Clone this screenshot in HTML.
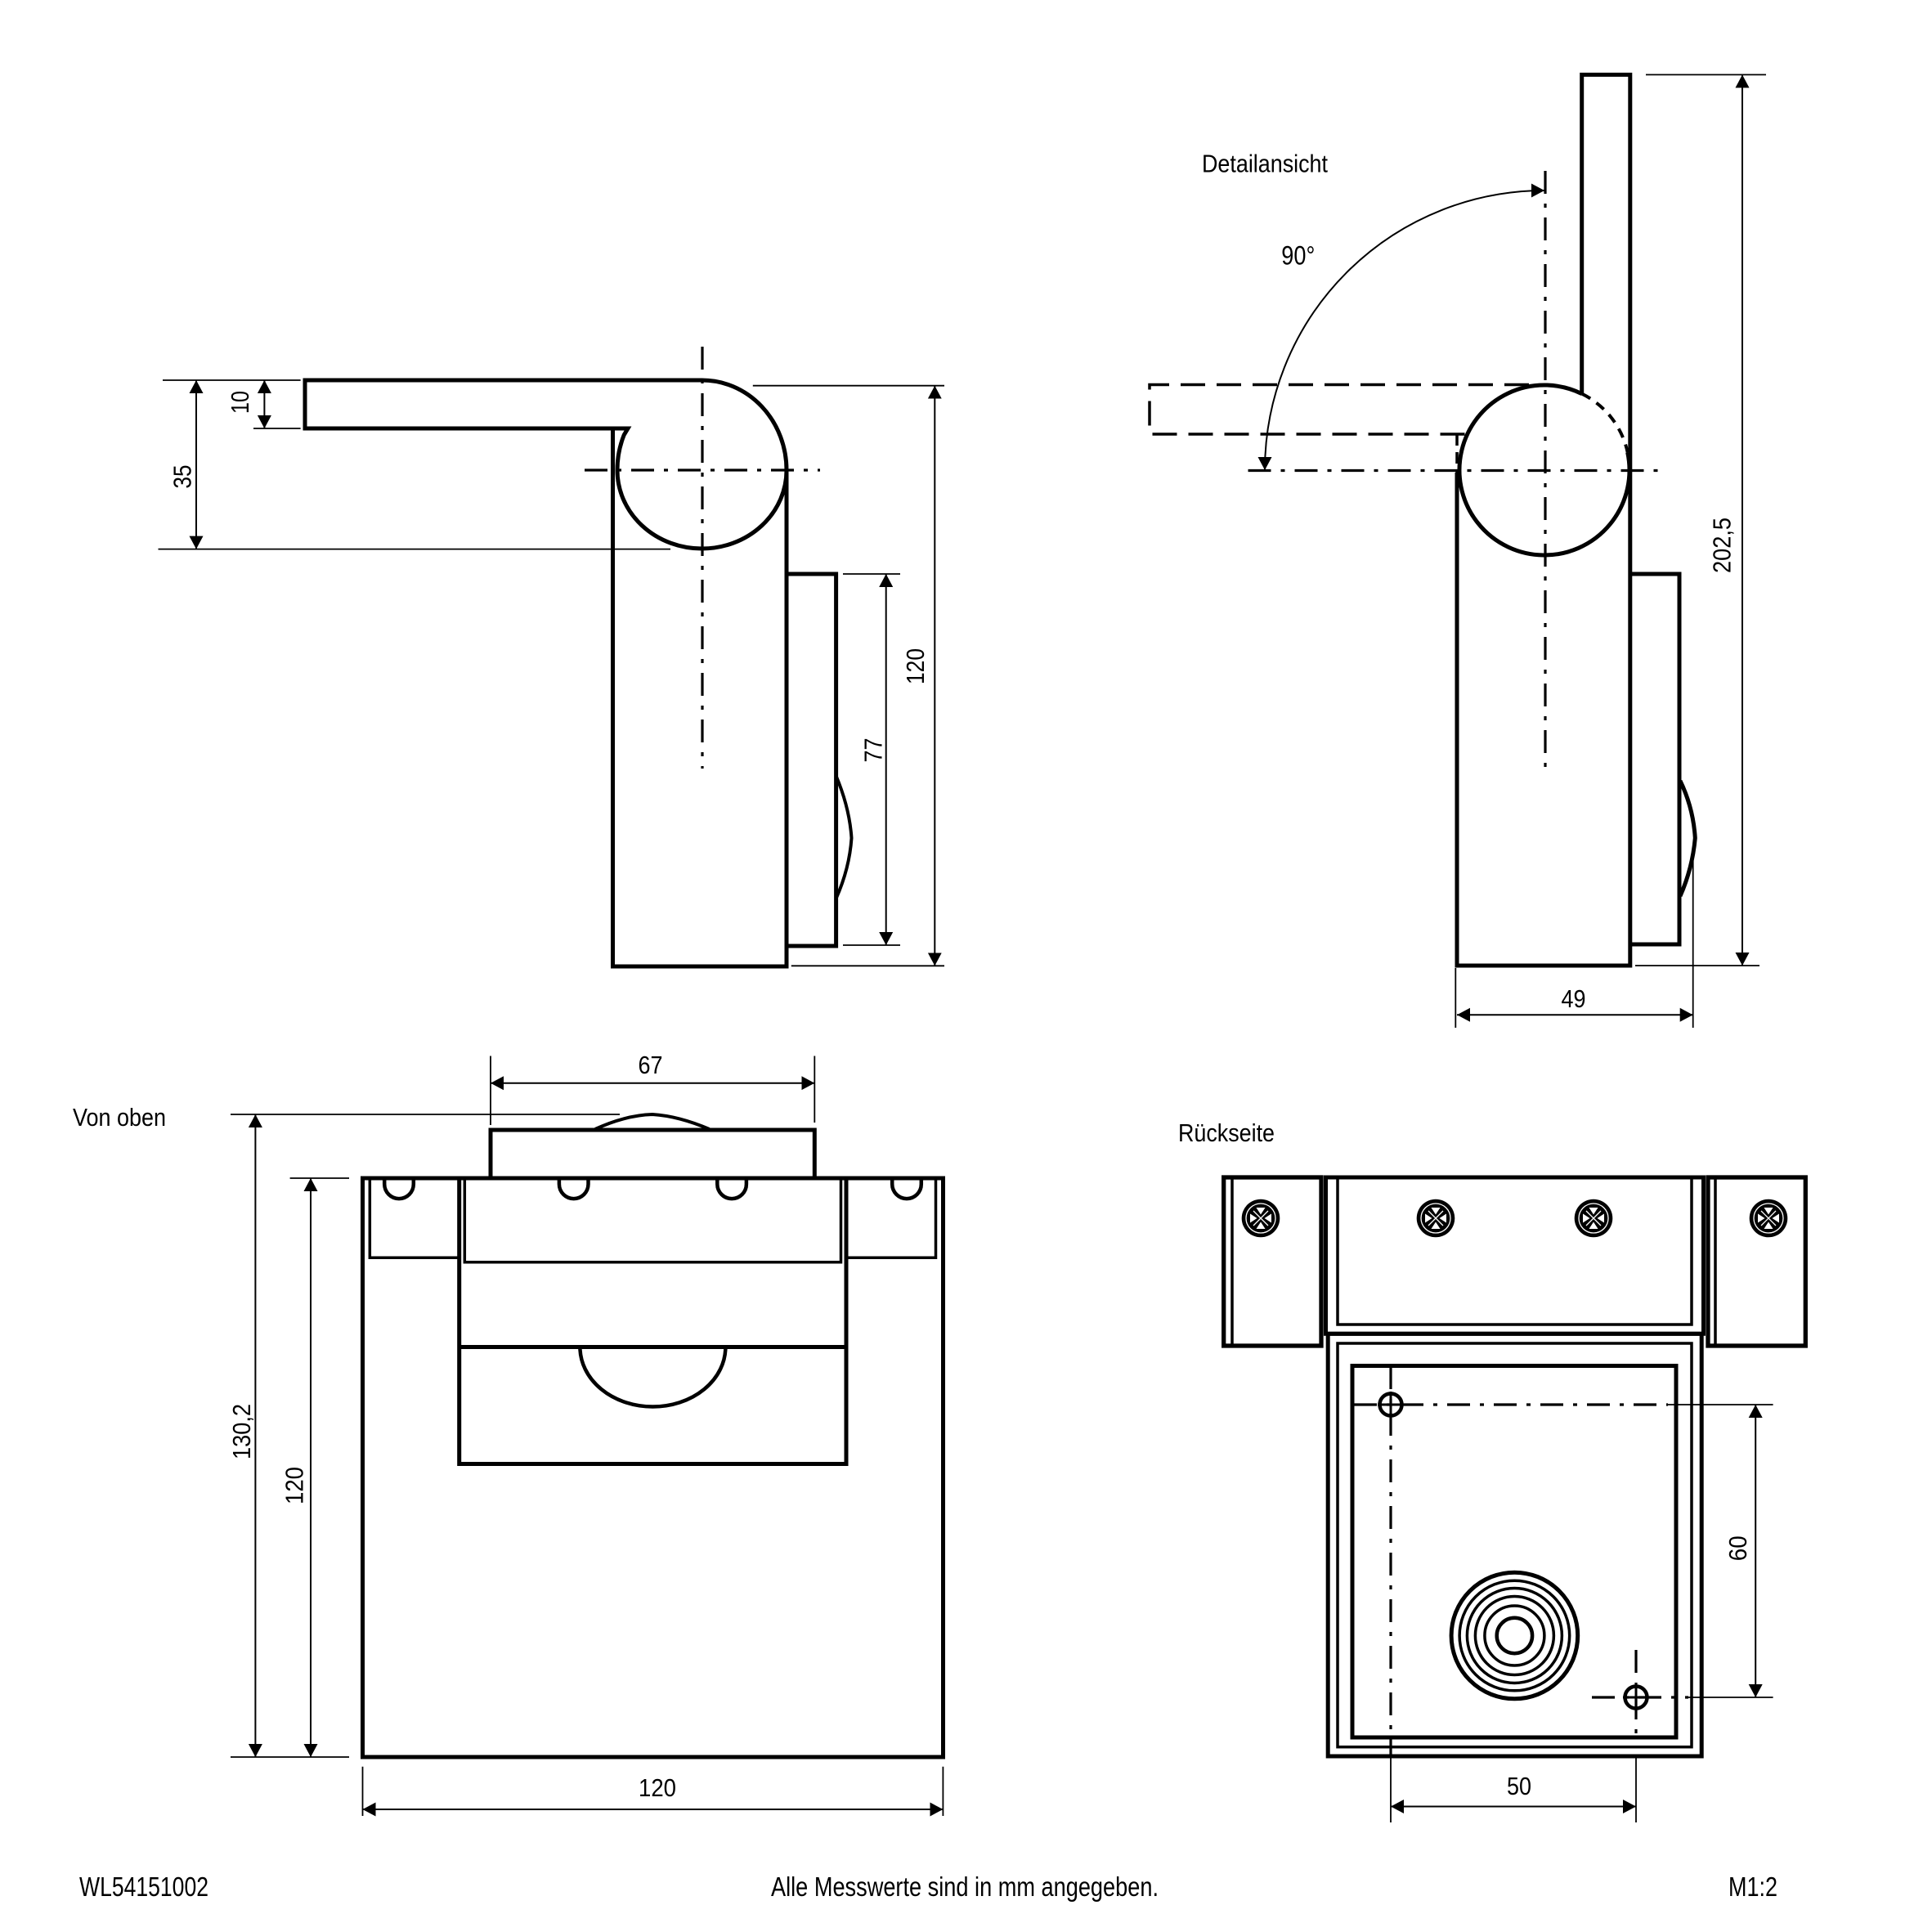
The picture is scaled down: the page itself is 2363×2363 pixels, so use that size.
<!DOCTYPE html>
<html>
<head>
<meta charset="utf-8">
<style>
html,body{margin:0;padding:0;background:#fff;}
svg{display:block;}
.o{stroke:#000;stroke-width:5;fill:none;}
.m{stroke:#000;stroke-width:3.5;fill:none;}
.d{stroke:#000;stroke-width:2;fill:none;marker-start:url(#a);marker-end:url(#a);}
.e{stroke:#000;stroke-width:1.8;fill:none;}
.c{stroke:#000;stroke-width:3.2;fill:none;stroke-dasharray:28 12 5 12;}
.h{stroke:#000;stroke-width:3.5;fill:none;stroke-dasharray:30 14;}
text{font-family:"Liberation Sans",Arial,sans-serif;fill:#000;}
</style>
</head>
<body>
<svg xmlns="http://www.w3.org/2000/svg" width="2363" height="2363" viewBox="0 0 2363 2363">
<defs>
<marker id="a" viewBox="0 -9 16 18" refX="16" refY="0" markerWidth="16" markerHeight="18" markerUnits="userSpaceOnUse" orient="auto-start-reverse">
<path d="M0 -8.5 L16 0 L0 8.5 z" fill="#000" stroke="none"/>
</marker>
<g id="scr">
<circle cx="0" cy="0" r="23.3" fill="#000"/>
<circle cx="0" cy="0" r="18" fill="none" stroke="#fff" stroke-width="1.3"/>
<path d="M-5.5 -13 L5.5 -13 L0 -4.5 Z M-5.5 13 L5.5 13 L0 4.5 Z M-13 -5.5 L-13 5.5 L-4.5 0 Z M13 -5.5 L13 5.5 L4.5 0 Z" fill="#fff"/>
<path d="M-9 -9 L9 9 M-9 9 L9 -9" stroke="#fff" stroke-width="1.3"/>
</g>
</defs>
<rect width="2363" height="2363" fill="#fff"/>

<!-- ============ TOP LEFT VIEW ============ -->
<path class="o" d="M749.5 524 H373 V465 H858.5 A103.5 110 0 0 1 962 575 V1182 H749.5 Z"/>
<path class="o" d="M749.5 524 H768 L763.2 532 A103.5 110 0 0 0 755 575 A103.5 96 0 0 0 962 575"/>
<path class="o" d="M962 702 H1022.6 V1157 H962"/>
<path stroke="#000" stroke-width="4" fill="none" d="M1022.6 949 Q1039 988 1041.5 1025 Q1039 1062 1022.6 1099"/>
<path class="c" d="M859 424 V940 M715 575 H1003"/>
<path class="d" d="M240 465 V671.6"/>
<path class="d" d="M323.4 465 V524"/>
<path class="d" d="M1143.3 471.7 V1181.3"/>
<path class="d" d="M1083.7 702 V1156"/>
<path class="e" d="M199 465 H367.6 M193.5 671.6 H820 M310 524 H367.6 M920.8 471.7 H1155 M967.8 1181.3 H1155 M1031 702 H1101 M1031 1156 H1101"/>

<!-- ============ TOP RIGHT VIEW (Detailansicht) ============ -->
<path class="o" d="M1934.7 481.6 V91.4 H1993.8 V1181 H1782 V578"/>
<path class="o" d="M1990.7 553.4 A104 104 0 1 1 1934.7 481.6"/>
<path stroke="#000" stroke-width="4" fill="none" stroke-dasharray="12 9" d="M1934.7 481.6 A104 104 0 0 1 1990.7 553.4"/>
<path class="h" d="M1870 470.5 H1406 V531 H1795"/>
<path stroke="#000" stroke-width="3.5" fill="none" stroke-dasharray="14 8" d="M1782 531 V578"/>
<path class="c" d="M1890 209 V939 M1526.5 575.5 H2034"/>
<path class="d" d="M1547 575 A342 342 0 0 1 1889 233"/>
<path class="o" d="M1993.8 702 H2054 V1155 H1993.8"/>
<path class="o" d="M2055 955 Q2071 988 2073.3 1025 Q2070 1062 2055 1096"/>
<path class="d" d="M2131 91.4 V1181"/>
<path class="d" d="M1782 1241.3 H2070.7"/>
<path class="e" d="M2013 91.4 H2160 M2000 1181 H2152 M1780.3 1184 V1257 M2070.7 1053 V1257"/>

<!-- ============ BOTTOM LEFT VIEW (Von oben) ============ -->
<rect class="o" x="443.5" y="1441" width="710" height="708"/>
<path class="o" d="M600 1441 V1382 H996.3 V1441"/>
<path stroke="#000" stroke-width="4" fill="none" d="M728 1381 Q765 1364 798 1363 Q830 1365 867.5 1381"/>
<rect class="o" x="561.7" y="1441" width="473.3" height="349.5"/>
<path class="o" d="M561.7 1647.5 H1035"/>
<path stroke="#000" stroke-width="4.5" fill="none" d="M709.4 1647.5 A89 73 0 0 0 887.4 1647.5"/>
<path class="m" d="M452.3 1441 V1538.3 H561.7"/>
<path class="m" d="M1144.5 1441 V1538.3 H1035"/>
<path class="m" d="M568.3 1441 V1543.7 H1028.5 V1441"/>
<path stroke="#000" stroke-width="4.5" fill="none" d="M470.2 1443 V1448.3 A17.8 17.8 0 0 0 505.8 1448.3 V1443 M683.9 1443 V1448.3 A17.8 17.8 0 0 0 719.5 1448.3 V1443 M877.3 1443 V1448.3 A17.8 17.8 0 0 0 912.9 1448.3 V1443 M1091.2 1443 V1448.3 A17.8 17.8 0 0 0 1126.8 1448.3 V1443"/>
<path class="d" d="M312.4 1363 V2149"/>
<path class="d" d="M380 1441 V2149"/>
<path class="d" d="M600 1324.7 H996.3"/>
<path class="d" d="M443.5 2213 H1153.4"/>
<path class="e" d="M282 1363 H758 M282 2149 H427 M354.6 1441 H427 M600 1291.5 V1376 M996.3 1291.5 V1373 M443.5 2160.7 V2221 M1153.4 2160.7 V2221"/>

<!-- ============ BOTTOM RIGHT VIEW (Rückseite) ============ -->
<rect stroke="#000" stroke-width="5.3" fill="none" x="1496.7" y="1440" width="119.3" height="206"/>
<rect stroke="#000" stroke-width="5.3" fill="none" x="2089" y="1440" width="119.3" height="206"/>
<path class="m" d="M1507 1442 V1644 M2098 1442 V1644"/>
<rect class="o" x="1621.5" y="1440" width="462" height="191.3"/>
<path class="m" d="M1636 1442 V1620 H2069 V1442"/>
<rect class="o" x="1624.2" y="1631.3" width="457" height="516.7"/>
<rect class="m" x="1636" y="1643" width="433" height="493.7"/>
<rect class="o" x="1654" y="1670.5" width="396" height="454.5"/>
<use href="#scr" x="1542" y="1490"/>
<use href="#scr" x="1756" y="1490"/>
<use href="#scr" x="1949" y="1490"/>
<use href="#scr" x="2163" y="1490"/>
<g fill="none" stroke="#000">
<circle cx="1852.4" cy="2000.5" r="77.3" stroke-width="5"/>
<circle cx="1852.4" cy="2000.5" r="67.3" stroke-width="3.5"/>
<circle cx="1852.4" cy="2000.5" r="58" stroke-width="3.5"/>
<circle cx="1852.4" cy="2000.5" r="48" stroke-width="3.5"/>
<circle cx="1852.4" cy="2000.5" r="36.5" stroke-width="3.5"/>
<circle cx="1852.4" cy="2000.5" r="21.7" stroke-width="4.5"/>
<circle cx="1701" cy="1718" r="13.5" stroke-width="4.5"/>
<circle cx="2001" cy="2076" r="13.5" stroke-width="4.5"/>
<path stroke-width="3" d="M1701 1702 V1734 M1685 1718 H1717 M2001 2060 V2092 M1985 2076 H2017"/>
</g>
<path class="c" d="M1656 1718 H2040 M1701 1671 V2150 M1947 2076 H2065 M2001 2018 V2130"/>
<path class="e" d="M2040 1718 H2168.6 M1701 2150 V2229 M2065 2076 H2168.6 M2001 2147 V2229"/>
<path class="d" d="M2147.2 1718 V2076"/>
<path class="d" d="M1701 2209.5 H2001"/>

<!-- ============ TEXT ============ -->
<g font-size="31">
<text x="1470" y="210.7" textLength="154" lengthAdjust="spacingAndGlyphs">Detailansicht</text>
<text x="1567.3" y="323.3" font-size="32" textLength="41" lengthAdjust="spacingAndGlyphs">90°</text>
<text x="1909.5" y="1232" textLength="30" lengthAdjust="spacingAndGlyphs">49</text>
<text x="89" y="1377" textLength="114" lengthAdjust="spacingAndGlyphs">Von oben</text>
<text x="780.5" y="1313" textLength="30" lengthAdjust="spacingAndGlyphs">67</text>
<text x="781" y="2197" textLength="46" lengthAdjust="spacingAndGlyphs">120</text>
<text x="1441" y="1396" textLength="118" lengthAdjust="spacingAndGlyphs">Rückseite</text>
<text x="1843" y="2195" textLength="30" lengthAdjust="spacingAndGlyphs">50</text>

<text transform="translate(233.5 583) rotate(-90)" x="-14.5" y="0" textLength="29" lengthAdjust="spacingAndGlyphs">35</text>
<text transform="translate(304 492) rotate(-90)" x="-14" y="0" textLength="28" lengthAdjust="spacingAndGlyphs">10</text>
<text transform="translate(1078.7 917.5) rotate(-90)" x="-15" y="0" textLength="30" lengthAdjust="spacingAndGlyphs">77</text>
<text transform="translate(1130 815) rotate(-90)" x="-22" y="0" textLength="44" lengthAdjust="spacingAndGlyphs">120</text>
<text transform="translate(2116.6 667) rotate(-90)" x="-34" y="0" textLength="68" lengthAdjust="spacingAndGlyphs">202,5</text>
<text transform="translate(305.8 1751) rotate(-90)" x="-34" y="0" textLength="68" lengthAdjust="spacingAndGlyphs">130,2</text>
<text transform="translate(370.6 1817) rotate(-90)" x="-23" y="0" textLength="46" lengthAdjust="spacingAndGlyphs">120</text>
<text transform="translate(2136 1893.7) rotate(-90)" x="-15.5" y="0" textLength="31" lengthAdjust="spacingAndGlyphs">60</text>
</g>
<g font-size="33">
<text x="97" y="2319" textLength="158" lengthAdjust="spacingAndGlyphs">WL54151002</text>
<text x="943" y="2319" textLength="474" lengthAdjust="spacingAndGlyphs">Alle Messwerte sind in mm angegeben.</text>
<text x="2114" y="2319" textLength="60" lengthAdjust="spacingAndGlyphs">M1:2</text>
</g>
</svg>
</body>
</html>
